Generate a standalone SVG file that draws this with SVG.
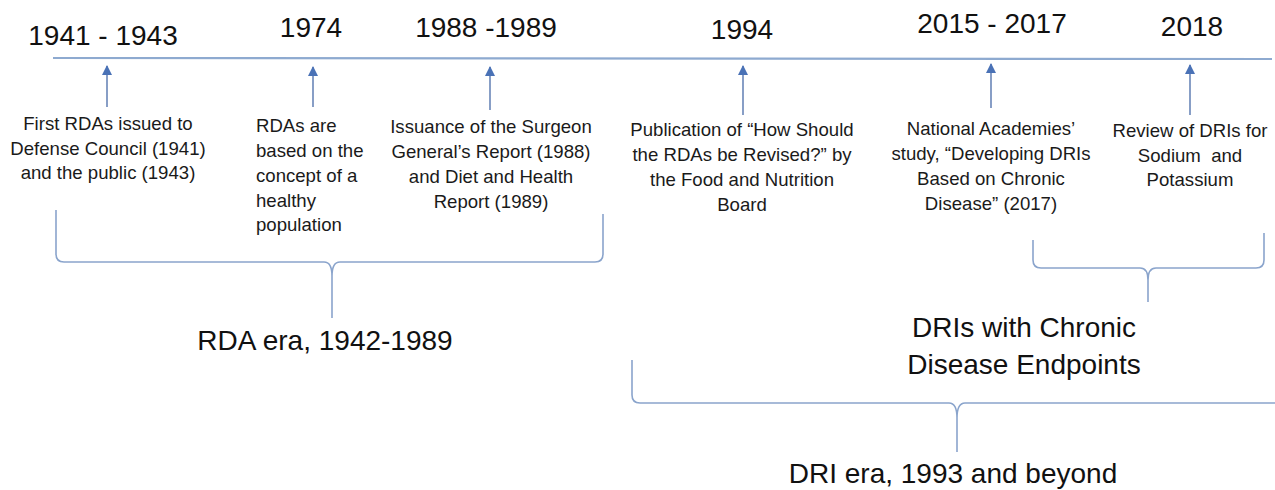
<svg xmlns="http://www.w3.org/2000/svg" width="1275" height="490" viewBox="0 0 1275 490">
<defs>
<marker id="ah" viewBox="0 0 10 10" refX="9" refY="5" markerWidth="10" markerHeight="10" markerUnits="userSpaceOnUse" orient="auto">
<path d="M0,0 L10,5 L0,10 Z" fill="#4a72b6"/>
</marker>
<style>
.yr{font-family:"Liberation Sans",Arial,sans-serif;font-size:28px;fill:#111;text-anchor:middle}
.ds{font-family:"Liberation Sans",Arial,sans-serif;font-size:18.6px;fill:#1a1a1a;text-anchor:middle}
.dl{text-anchor:start}
.era{font-family:"Liberation Sans",Arial,sans-serif;font-size:28px;fill:#111;text-anchor:middle}
.arr{stroke:#6a86b8;stroke-width:1.6;fill:none;marker-end:url(#ah)}
.br{stroke:#8aa4cc;stroke-width:1.6;fill:none}
.tl{stroke:#8eaad0;stroke-width:2.2}
</style>
</defs>
<rect width="1275" height="490" fill="#fff"/>
<g id="connectors">
<line class="tl" x1="53" y1="58" x2="1272" y2="59"/>
<line class="arr" x1="107" y1="107" x2="107" y2="66"/>
<line class="arr" x1="313" y1="107" x2="313" y2="67"/>
<line class="arr" x1="490" y1="110" x2="490" y2="67"/>
<line class="arr" x1="743" y1="115" x2="743" y2="66"/>
<line class="arr" x1="991" y1="108" x2="991" y2="64"/>
<line class="arr" x1="1190" y1="115" x2="1190" y2="65"/>
<path class="br" d="M56,210 V254 Q56,262 64,262 H324 Q332,262 332,276 V318 M603,214 V254 Q603,262 595,262 H340 Q332,262 332,276"/>
<path class="br" d="M1033,240 V260 Q1033,268 1041,268 H1140 Q1148,268 1148,280 V302 M1264,233 V260 Q1264,268 1256,268 H1156 Q1148,268 1148,280"/>
<path class="br" d="M632,360 V395 Q632,403 640,403 H949 Q957,403 957,418 V452 M1275,403 H965 Q957,403 957,418"/>
</g>
<g id="n1941">
<text class="yr" x="103" y="45">1941 - 1943</text>
<text class="ds" x="108" y="130">First RDAs issued to</text>
<text class="ds" x="108" y="155">Defense Council (1941)</text>
<text class="ds" x="108" y="179">and the public (1943)</text>
</g>
<g id="n1974">
<text class="yr" x="311" y="37">1974</text>
<text class="ds dl" x="256" y="132">RDAs are</text>
<text class="ds dl" x="256" y="157">based on the</text>
<text class="ds dl" x="256" y="182">concept of a</text>
<text class="ds dl" x="256" y="207">healthy</text>
<text class="ds dl" x="256" y="231">population</text>
</g>
<g id="n1988">
<text class="yr" x="486" y="37">1988 -1989</text>
<text class="ds" x="491" y="133">Issuance of the Surgeon</text>
<text class="ds" x="491" y="158">General’s Report (1988)</text>
<text class="ds" x="491" y="183">and Diet and Health</text>
<text class="ds" x="491" y="208">Report (1989)</text>
</g>
<g id="n1994">
<text class="yr" x="742" y="39">1994</text>
<text class="ds" x="742" y="136">Publication of “How Should</text>
<text class="ds" x="742" y="161">the RDAs be Revised?” by</text>
<text class="ds" x="742" y="186">the Food and Nutrition</text>
<text class="ds" x="742" y="211">Board</text>
</g>
<g id="n2015">
<text class="yr" x="992" y="33">2015 - 2017</text>
<text class="ds" x="991" y="135">National Academies’</text>
<text class="ds" x="991" y="160">study, “Developing DRIs</text>
<text class="ds" x="991" y="185">Based on Chronic</text>
<text class="ds" x="991" y="210">Disease” (2017)</text>
</g>
<g id="n2018">
<text class="yr" x="1192" y="36">2018</text>
<text class="ds" x="1190" y="137">Review of DRIs for</text>
<text class="ds" x="1190" y="162" xml:space="preserve">Sodium  and</text>
<text class="ds" x="1190" y="186">Potassium</text>
</g>
<g id="rda-era">
<text class="era" x="325" y="350">RDA era, 1942-1989</text>
</g>
<g id="dri-chronic">
<text class="era dl" x="1024" y="337">DRIs with Chronic</text>
<text class="era dl" x="1024" y="374">Disease Endpoints</text>
</g>
<g id="dri-era">
<text class="era" x="953" y="483">DRI era, 1993 and beyond</text>
</g>
</svg>
